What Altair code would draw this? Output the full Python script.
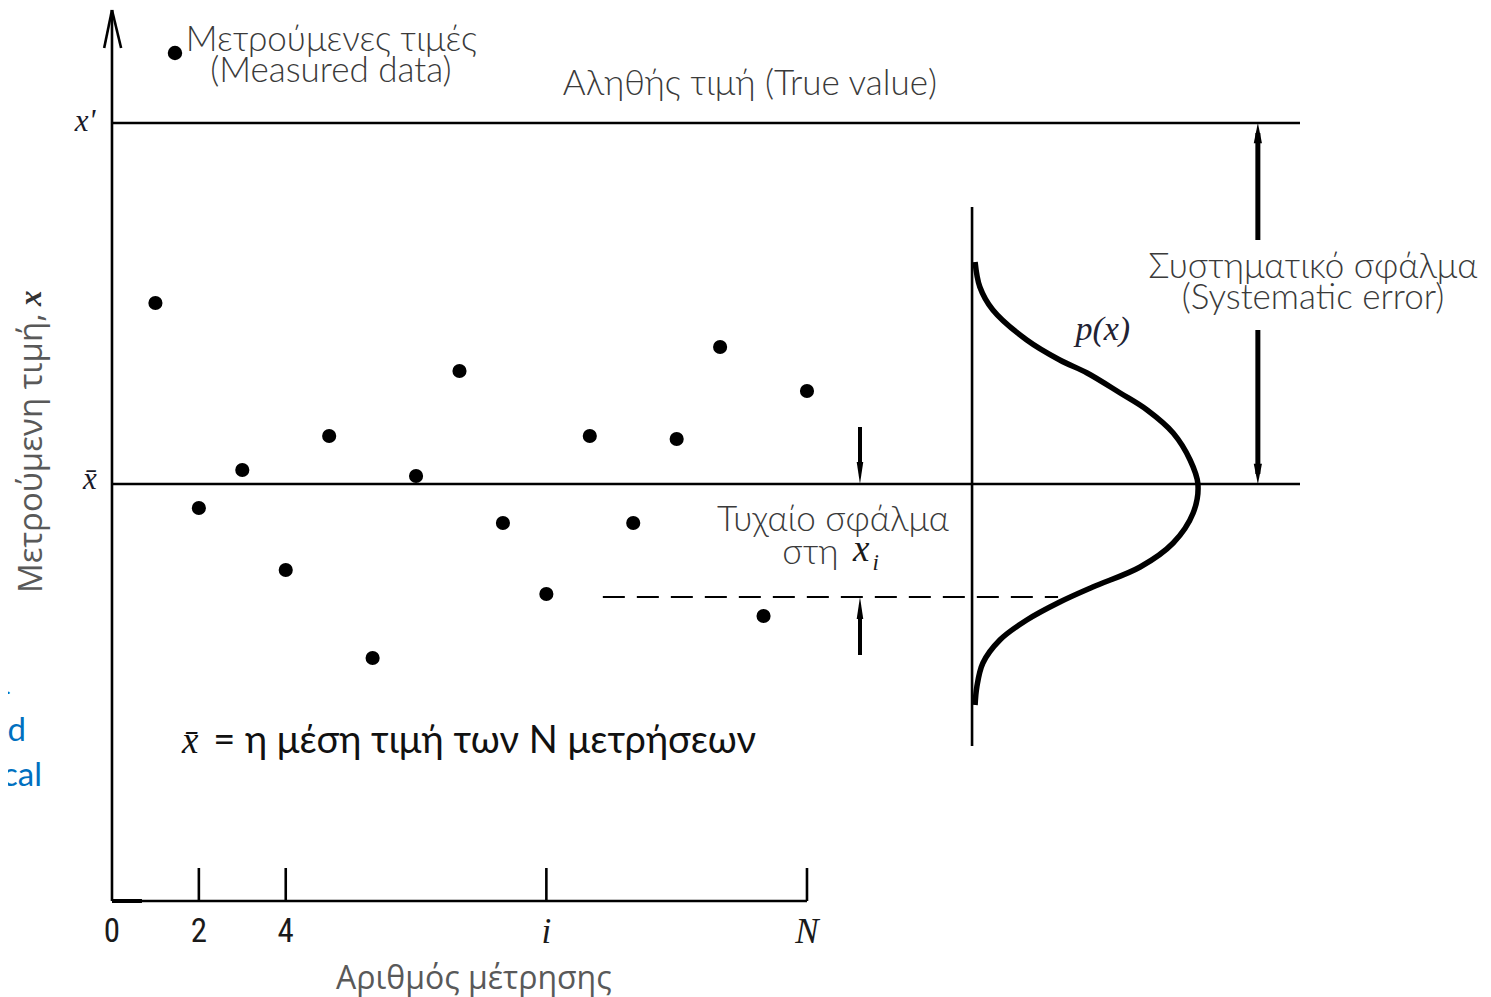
import altair as alt
import pandas as pd

# ---------------- data ----------------
measurement_no = list(range(1, 17))
measured_value = [68.1, 47.6, 51.4, 41.4, 54.8, 32.6, 50.8, 61.3,
                  46.1, 39.0, 54.8, 46.1, 54.5, 63.7, 36.8, 59.3]
true_value = 86.1          # x'
mean_value = 50.0          # x-bar
N_last = 16

tick_at = [0, 2, 4, 10, 16]
tick_text = ["0", "2", "4", "i", "N"]

# p(x) curve drawn sideways: horizontal = density position, vertical = value
curve_p = [19.87, 19.98, 20.28, 21.06, 21.82, 22.45, 23.21, 23.83, 24.43, 24.82, 25.00,
           24.89, 24.43, 23.67, 22.58, 21.82, 21.06, 20.44, 20.05, 19.91, 19.87]
curve_v = [72.2, 69.7, 67.4, 64.4, 62.4, 61.1, 59.1, 57.4, 55.1, 52.4, 50.0,
           47.1, 44.1, 41.7, 39.7, 38.2, 36.4, 34.4, 32.1, 29.7, 27.9]

axis_bottom = 8.3
axis_top = 97.4
tick_top = 11.6
line_end = 27.35
pdf_base = 19.8
pdf_low, pdf_high = 23.8, 77.7
xi_value = 38.7
dash_from, dash_to = 11.30, 21.78
rand_arrow_at = 17.22
rand_tail_top, rand_tail_bottom = 55.7, 32.9
sys_arrow_at = 26.38
sys_gap_top, sys_gap_bottom = 74.4, 65.4
legend_dot = (1.45, 93.1)

xs = alt.Scale(domain=[-2.394, 31.563], nice=False, zero=False)
ys = alt.Scale(domain=[-1.3, 97.6], nice=False, zero=False)

SANS = "Lato, 'Open Sans', sans-serif"
TITLE = "'Open Sans', 'Noto Sans', sans-serif"
NARROW = "'Liberation Sans Narrow', 'Roboto Condensed', Lato, sans-serif"
SERIF = "'Liberation Serif', 'DejaVu Serif', serif"
GREY = "#3a3a3a"


def xy(ch, x="x", y="y", x2=None, y2=None, extra=None):
    e = dict(x=alt.X(x, type="quantitative", scale=xs, axis=None),
             y=alt.Y(y, type="quantitative", scale=ys, axis=None))
    if x2:
        e["x2"] = alt.X2(x2)
    if y2:
        e["y2"] = alt.Y2(y2)
    if extra:
        e.update(extra)
    return ch.encode(**e)


def seg(rows):
    return pd.DataFrame(rows, columns=["x", "y", "x2", "y2"])


# ---------------- line work ----------------
axes_df = seg([
    (0, axis_bottom, 0, axis_top),
    (0, axis_bottom, N_last, axis_bottom),
    (0, axis_top, -0.18, 93.6),
    (0, axis_top, 0.21, 93.6),
] + [(t, axis_bottom, t, tick_top) for t in tick_at[1:]])
axes = xy(alt.Chart(axes_df).mark_rule(color="black", strokeWidth=2.6),
          x2="x2", y2="y2")

origin_df = seg([(0, axis_bottom, 0.69, axis_bottom)])
origin = xy(alt.Chart(origin_df).mark_rule(color="black", strokeWidth=4),
            x2="x2", y2="y2")

ref_df = seg([
    (0, true_value, line_end, true_value),
    (0, mean_value, line_end, mean_value),
    (pdf_base, pdf_low, pdf_base, pdf_high),
])
refs = xy(alt.Chart(ref_df).mark_rule(color="black", strokeWidth=2.6),
          x2="x2", y2="y2")

dash_df = seg([(dash_from, xi_value, dash_to, xi_value)])
dashed = xy(alt.Chart(dash_df).mark_rule(color="black", strokeWidth=1.8,
                                         strokeDash=[22, 12]),
            x2="x2", y2="y2")

rand_df = seg([
    (rand_arrow_at, rand_tail_top, rand_arrow_at, mean_value + 1.5),
    (rand_arrow_at, rand_tail_bottom, rand_arrow_at, xi_value - 1.5),
])
rand_shafts = xy(alt.Chart(rand_df).mark_rule(color="black", strokeWidth=4),
                 x2="x2", y2="y2")

sys_df = seg([
    (sys_arrow_at, true_value - 1.0, sys_arrow_at, sys_gap_top),
    (sys_arrow_at, sys_gap_bottom, sys_arrow_at, mean_value + 1.0),
])
sys_shafts = xy(alt.Chart(sys_df).mark_rule(color="black", strokeWidth=5),
                x2="x2", y2="y2")

UP = "M0,-1L-0.4,1L0.4,1Z"
DOWN = "M0,1L-0.4,-1L0.4,-1Z"
UP_N = "M0,-1L-0.3,1L0.3,1Z"
DOWN_N = "M0,1L-0.3,-1L0.3,-1Z"

heads = alt.layer(
    xy(alt.Chart(pd.DataFrame({"x": [sys_arrow_at], "y": [true_value]}))
       .mark_point(shape=UP, size=420, filled=True, color="black", opacity=1, yOffset=10)),
    xy(alt.Chart(pd.DataFrame({"x": [sys_arrow_at], "y": [mean_value]}))
       .mark_point(shape=DOWN, size=420, filled=True, color="black", opacity=1, yOffset=-10)),
    xy(alt.Chart(pd.DataFrame({"x": [rand_arrow_at], "y": [mean_value]}))
       .mark_point(shape=DOWN_N, size=480, filled=True, color="black", opacity=1, yOffset=-11)),
    xy(alt.Chart(pd.DataFrame({"x": [rand_arrow_at], "y": [xi_value]}))
       .mark_point(shape=UP_N, size=480, filled=True, color="black", opacity=1, yOffset=11)),
)

curve_df = pd.DataFrame({"x": curve_p, "y": curve_v, "k": list(range(len(curve_p)))})
curve = xy(alt.Chart(curve_df).mark_line(color="black", strokeWidth=5.5,
                                         interpolate="catmull-rom"),
           extra=dict(order=alt.Order("k:Q")))

pts_df = pd.DataFrame({"x": measurement_no, "y": measured_value})
points = xy(alt.Chart(pts_df).mark_circle(color="black", size=200, opacity=1))

leg_df = pd.DataFrame({"x": [legend_dot[0]], "y": [legend_dot[1]]})
leg_dot = xy(alt.Chart(leg_df).mark_circle(color="black", size=210, opacity=1))


# ---------------- text ----------------
def txt(rows, **kw):
    df = pd.DataFrame(rows, columns=["x", "y", "t"])
    base = dict(baseline="middle")
    base.update(kw)
    return xy(alt.Chart(df).mark_text(**base), extra=dict(text=alt.Text("t:N")))


tick_labels_num = txt([(t, 5.2, s) for t, s in zip(tick_at[:3], tick_text[:3])],
                      font=NARROW, fontSize=33, color="#1a1a1a", align="center")
tick_labels_it = txt([(t, 5.2, s) for t, s in zip(tick_at[3:], tick_text[3:])],
                     font=SERIF, fontSize=35, fontStyle="italic", color="#1a1a1a",
                     align="center")

x_title = txt([(8.33, 0.5, "Αριθμός μέτρησης")], font=TITLE, fontSize=32,
              color="#595959", align="center")
y_title = txt([(-1.84, 39.1, "Μετρούμενη τιμή,")], font=TITLE, fontSize=33,
              color="#595959", align="left", angle=270)
y_title_x = txt([(-1.84, 67.8, "x")], font=SERIF, fontSize=31, fontStyle="italic",
                fontWeight="bold", color="#333333", align="left", angle=270)

y_marks = txt([(-0.62, 86.2, "x'"), (-0.51, 50.4, "x\u0304")], font=SERIF, fontSize=31,
              fontStyle="italic", color="#1a1a2a", align="center")

labels = txt([
    (1.70, 94.4, "Μετρούμενες τιμές"),
    (10.38, 90.0, "Αληθής τιμή (True value)"),
], font=SANS, fontSize=35, fontWeight=300, color=GREY, align="left")

labels_c = txt([
    (5.04, 91.3, "(Measured data)"),
    (27.65, 71.7, "Συστηματικό σφάλμα"),
    (27.65, 68.6, "(Systematic error)"),
    (16.60, 46.4, "Τυχαίο σφάλμα"),
], font=SANS, fontSize=35, fontWeight=300, color=GREY, align="center")

sti = txt([(16.08, 43.1, "στη")], font=SANS, fontSize=35, fontWeight=300,
          color=GREY, align="center")
xi_x = txt([(17.25, 43.4, "x")], font=SERIF, fontSize=37, fontStyle="italic",
           color="#1a1a1a", align="center")
xi_i = txt([(17.58, 42.1, "i")], font=SERIF, fontSize=23, fontStyle="italic",
           color="#1a1a1a", align="center")

px_label = txt([(22.81, 65.4, "p(x)")], font=SERIF, fontSize=34, fontStyle="italic",
               color="#222233", align="center")

mean_bar = txt([(1.80, 24.2, "x\u0304")], font=SERIF, fontSize=37, fontStyle="italic",
               color="#111111", align="center")
mean_txt = txt([(2.33, 24.2, "= η μέση τιμή των Ν μετρήσεων")], font=SANS, fontSize=38,
               color="#111111", align="left")

blue_big = txt([(-1.98, 25.3, "nd"), (-1.61, 20.8, "cal")], font=SANS, fontSize=33,
               color="#0070C0", align="right")
blue_small = txt([(-2.33, 29.6, "t."), (-2.4, 16.9, "n")], font=SANS, fontSize=20,
                 color="#0070C0", align="right")

chart = alt.layer(
    refs, dashed, axes, origin, rand_shafts, sys_shafts, heads, curve, points, leg_dot,
    tick_labels_num, tick_labels_it, x_title, y_title, y_title_x, y_marks,
    labels, labels_c, sti, xi_x, xi_i, px_label, mean_bar, mean_txt,
    blue_big, blue_small,
).properties(
    width=1475, height=989, padding=0, autosize=alt.AutoSizeParams(type="none"),
    background="white",
).configure_view(stroke=None)

chart.save("out.html", embed_options={"renderer": "svg", "actions": False})
